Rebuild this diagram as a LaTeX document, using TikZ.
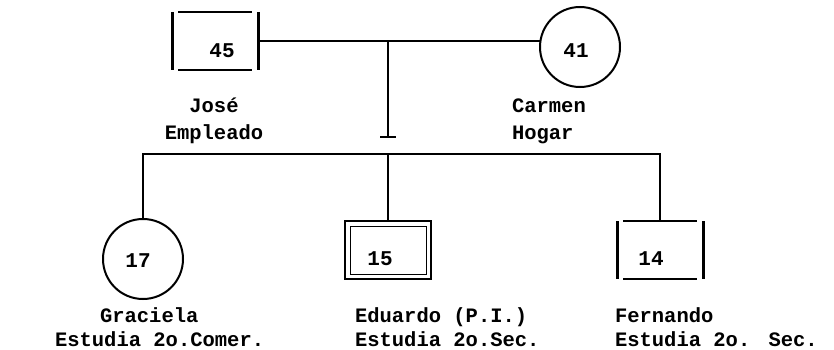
\documentclass[tikz,border=0pt]{standalone}
\usepackage{fontspec}
\setmonofont{Liberation Mono}
\begin{document}
\begin{tikzpicture}[x=1pt,y=-1pt,
  every node/.style={inner sep=0pt, outer sep=0pt},
  txt/.style={font=\ttfamily\bfseries\fontsize{20.5}{24}\selectfont, anchor=base west},
  ctxt/.style={font=\ttfamily\bfseries\fontsize{20.5}{24}\selectfont, anchor=base},
  num/.style={font=\ttfamily\bfseries\fontsize{21}{25}\selectfont},
  ln/.style={line width=2pt},
  side/.style={line width=3pt},
  edge/.style={line width=1.5pt},
  sq/.style={minimum width=86pt, minimum height=58pt},
  ci/.style={circle, draw, line width=2pt, minimum size=80pt},
]
\useasboundingbox (0,0) rectangle (834,350);

% parents
\node[sq] (jose) at (215,41) {};
\draw[side] (jose.north west) -- (jose.south west);
\draw[side] (jose.north east) -- (jose.south east);
\draw[edge] ([xshift=6pt]jose.north west) -- ([xshift=-6pt]jose.north east);
\draw[edge] ([xshift=6pt]jose.south west) -- ([xshift=-6pt]jose.south east);
\node[num] (n45) at (222,51) {45};

\node[ci] (carmen) at (580,47) {};
\node[num] (n41) at (576,51) {41};

\draw[ln] (jose.east) -- (jose.east -| carmen.west);
\coordinate (cpl) at (388,41);
\coordinate (tbar) at (388,137);
\draw[ln] (cpl) -- (tbar);
\draw[ln] ([xshift=-8pt]tbar) -- ([xshift=8pt]tbar);

\node[ctxt] (tjose) at (214,113) {José};
\node[ctxt] (tjose2) at (214,139) {Empleado};
\node[txt] (tcar) at (512,113) {Carmen};
\node[txt] (tcar2) at (512,139) {Hogar};

% children
\coordinate (sib) at (388,154);
\node[ci] (grac) at (143,259) {};
\node[num] (n17) at (138,261) {17};

\node[sq, draw, line width=2.5pt] (edu) at (388,250) {};
\draw[line width=1pt] ([shift={(5pt,-5pt)}]edu.north west) rectangle ([shift={(-5pt,5pt)}]edu.south east);
\node[num] (n15) at (380,259) {15};

\node[sq] (fern) at (660,250) {};
\draw[side] (fern.north west) -- (fern.south west);
\draw[side] (fern.north east) -- (fern.south east);
\draw[edge] ([xshift=6pt]fern.north west) -- ([xshift=-6pt]fern.north east);
\draw[edge] ([xshift=6pt]fern.south west) -- ([xshift=-6pt]fern.south east);
\node[num] (n14) at (651,259) {14};

\draw[ln] (grac.north) -- (grac.north |- sib) -- (fern.north |- sib) -- (fern.north);
\draw[ln] (edu.north |- sib) -- (edu.north);

\node[txt] (tg1) at (100,322) {Graciela};
\node[txt] (tg2) at (55,346) {Estudia 2o.Comer.};
\node[txt] (te1) at (355,322) {Eduardo (P.I.)};
\node[txt] (te2) at (355,346) {Estudia 2o.Sec.};
\node[txt] (tf1) at (615,322) {Fernando};
\node[txt] (tf2) at (615,346) {Estudia 2o.\hspace{6pt} Sec.};
\end{tikzpicture}
\end{document}
